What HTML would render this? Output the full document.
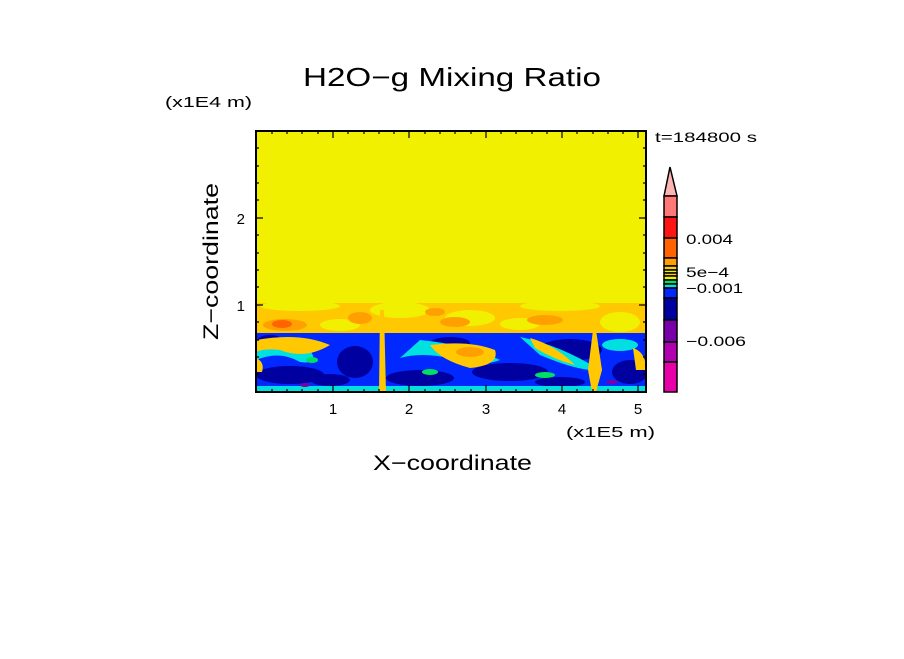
<!DOCTYPE html>
<html><head><style>
body{margin:0;background:#fff;width:904px;height:654px;overflow:hidden}
text{font-family:"Liberation Sans",sans-serif;fill:#000}
</style></head><body>
<svg width="904" height="654" viewBox="0 0 904 654" xmlns="http://www.w3.org/2000/svg">
<defs><clipPath id="c"><rect x="256" y="131" width="390" height="261"/></clipPath></defs>
<g clip-path="url(#c)">
<rect x="256" y="131" width="390" height="261" fill="#f0f000"/>
<rect x="256" y="303" width="390" height="32" fill="#ffc800"/>
<g fill="#f0f000">
<ellipse cx="300" cy="306" rx="40" ry="5"/><ellipse cx="400" cy="310" rx="30" ry="8"/>
<ellipse cx="470" cy="318" rx="25" ry="8"/><ellipse cx="560" cy="306" rx="40" ry="5"/>
<ellipse cx="620" cy="322" rx="20" ry="10"/><ellipse cx="340" cy="325" rx="20" ry="6"/>
<ellipse cx="520" cy="324" rx="20" ry="6"/>
</g>
<g fill="#ffa000">
<ellipse cx="285" cy="325" rx="22" ry="6"/><ellipse cx="360" cy="318" rx="12" ry="6"/>
<ellipse cx="455" cy="322" rx="15" ry="5"/><ellipse cx="545" cy="320" rx="18" ry="5"/>
<ellipse cx="435" cy="312" rx="10" ry="4"/>
</g>
<ellipse cx="282" cy="324" rx="10" ry="4" fill="#ff6400"/>
<rect x="256" y="333" width="390" height="59" fill="#0028ff"/>
<g fill="#0000a0">
<ellipse cx="290" cy="375" rx="34" ry="9"/><ellipse cx="355" cy="362" rx="18" ry="16"/>
<ellipse cx="420" cy="378" rx="34" ry="8"/><ellipse cx="510" cy="372" rx="38" ry="9"/>
<ellipse cx="570" cy="350" rx="32" ry="11"/><ellipse cx="630" cy="372" rx="18" ry="12"/>
<ellipse cx="270" cy="340" rx="12" ry="5"/><ellipse cx="450" cy="343" rx="20" ry="6"/>
<ellipse cx="330" cy="380" rx="20" ry="6"/><ellipse cx="560" cy="382" rx="25" ry="5"/>
</g>
<g fill="#00e0e0">
<path d="M256 345 Q290 335 310 350 Q320 365 300 362 Q280 350 256 360Z"/>
<path d="M420 340 Q470 345 500 360 Q480 368 450 358 Q420 352 400 358Z"/>
<path d="M520 337 Q560 345 600 370 Q580 372 540 355Z"/>
<path d="M256 386 L646 386 L646 392 L256 392Z"/>
<ellipse cx="620" cy="345" rx="18" ry="6"/>
</g>
<g fill="#ffc800">
<path d="M256 340 Q300 332 330 345 Q305 360 280 350 Q265 348 256 352Z"/>
<path d="M430 345 Q470 340 495 350 Q500 365 470 368 Q440 360 430 345Z"/>
<path d="M530 338 Q555 345 575 365 Q555 360 535 348Z"/>
<path d="M256 358 Q265 362 262 372 L256 372Z"/>
<path d="M380 310 L384 310 L386 392 L379 392Z"/>
<path d="M593 330 L596 330 L602 370 L596 392 L592 392 L588 370Z"/>
<path d="M633 348 Q646 352 646 370 L636 370Z"/>
</g>
<ellipse cx="470" cy="352" rx="14" ry="5" fill="#ffa000"/>
<g fill="#00e060">
<ellipse cx="312" cy="360" rx="6" ry="3"/><ellipse cx="545" cy="375" rx="10" ry="3"/>
<ellipse cx="430" cy="372" rx="8" ry="3"/>
</g>
<ellipse cx="305" cy="385" rx="5" ry="2" fill="#7800a8"/>
<ellipse cx="612" cy="382" rx="6" ry="2" fill="#7800a8"/>
</g>
<rect x="256" y="131" width="390" height="261" fill="none" stroke="#000" stroke-width="2"/>
<g stroke="#000" stroke-width="1.2">
<path d="M333 392v-7M409 392v-7M486 392v-7M562 392v-7M638 392v-7M333 131v7M409 131v7M486 131v7M562 131v7M638 131v7"/>
<path d="M272 392v-3M287 392v-3M302 392v-3M318 392v-3M348 392v-3M364 392v-3M379 392v-3M394 392v-3M425 392v-3M440 392v-3M455 392v-3M471 392v-3M501 392v-3M516 392v-3M532 392v-3M547 392v-3M577 392v-3M593 392v-3M608 392v-3M623 392v-3
M272 131v3M287 131v3M302 131v3M318 131v3M348 131v3M364 131v3M379 131v3M394 131v3M425 131v3M440 131v3M455 131v3M471 131v3M501 131v3M516 131v3M532 131v3M547 131v3M577 131v3M593 131v3M608 131v3M623 131v3"/>
<path d="M256 218h7M256 305h7M646 218h-7M646 305h-7"/>
<path d="M256 374h3M256 357h3M256 340h3M256 322h3M256 287h3M256 270h3M256 253h3M256 235h3M256 200h3M256 183h3M256 166h3M256 148h3
M646 374h-3M646 357h-3M646 340h-3M646 322h-3M646 287h-3M646 270h-3M646 253h-3M646 235h-3M646 200h-3M646 183h-3M646 166h-3M646 148h-3"/>
</g>
<text x="303" y="86" font-size="26" textLength="298" lengthAdjust="spacingAndGlyphs">H2O−g Mixing Ratio</text>
<text x="165" y="107" font-size="15" textLength="87" lengthAdjust="spacingAndGlyphs">(x1E4 m)</text>
<text x="655" y="142" font-size="14" textLength="102" lengthAdjust="spacingAndGlyphs">t=184800 s</text>
<text x="566" y="437" font-size="15" textLength="89" lengthAdjust="spacingAndGlyphs">(x1E5 m)</text>
<text x="373" y="470" font-size="21" textLength="159" lengthAdjust="spacingAndGlyphs">X−coordinate</text>
<text transform="translate(218,340) rotate(-90)" font-size="21" textLength="157" lengthAdjust="spacingAndGlyphs">Z−coordinate</text>
<g font-size="15" text-anchor="middle">
<text x="333" y="414">1</text><text x="409" y="414">2</text><text x="486" y="414">3</text><text x="562" y="414">4</text><text x="638" y="414">5</text>
</g>
<g font-size="15" text-anchor="end"><text x="245" y="224">2</text><text x="245" y="311">1</text></g>
<g stroke="#000" stroke-width="1.5">
<path d="M664 196 L670 167 L677 196Z" fill="#ffb4b4"/>
<rect x="664" y="196" width="13" height="21" fill="#ff7878"/>
<rect x="664" y="217" width="13" height="21" fill="#ff1414"/>
<rect x="664" y="238" width="13" height="20" fill="#ff6400"/>
<rect x="664" y="258" width="13" height="8" fill="#ffa000"/>
<rect x="664" y="266" width="13" height="4" fill="#ffd000"/>
<rect x="664" y="270" width="13" height="3" fill="#f0f000"/>
<rect x="664" y="273" width="13" height="3" fill="#ffd000"/>
<rect x="664" y="276" width="13" height="4" fill="#f0f000"/>
<rect x="664" y="280" width="13" height="4" fill="#00e060"/>
<rect x="664" y="284" width="13" height="4" fill="#00e0e0"/>
<rect x="664" y="288" width="13" height="10" fill="#0028ff"/>
<rect x="664" y="298" width="13" height="22" fill="#0000a0"/>
<rect x="664" y="320" width="13" height="22" fill="#7800a8"/>
<rect x="664" y="342" width="13" height="20" fill="#b000b0"/>
<rect x="664" y="362" width="13" height="30" fill="#e800a8"/>
</g>
<g font-size="14">
<text x="686" y="244" textLength="47" lengthAdjust="spacingAndGlyphs">0.004</text>
<text x="686" y="277" textLength="43" lengthAdjust="spacingAndGlyphs">5e−4</text>
<text x="686" y="293" textLength="57" lengthAdjust="spacingAndGlyphs">−0.001</text>
<text x="686" y="346" textLength="60" lengthAdjust="spacingAndGlyphs">−0.006</text>
</g>
</svg>
</body></html>
